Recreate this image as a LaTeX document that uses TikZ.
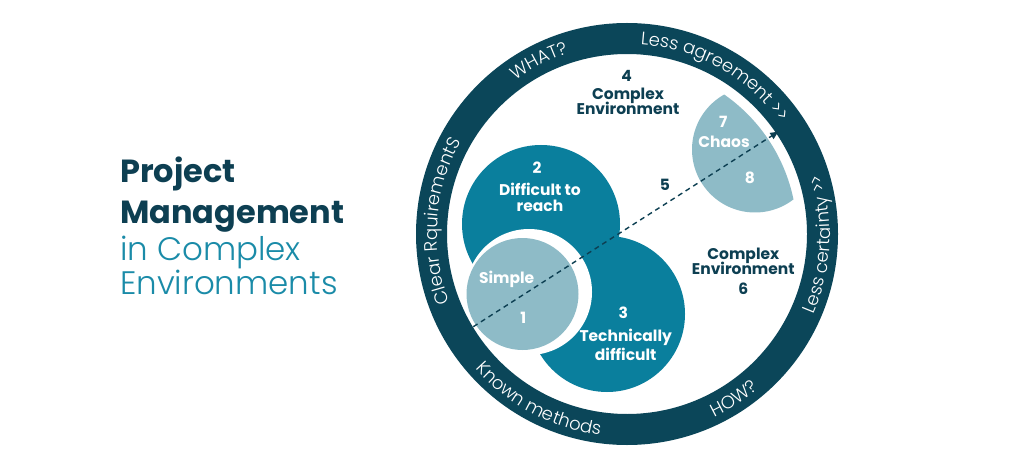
\documentclass[tikz,border=0pt]{standalone}
\usepackage{fontspec}
\setmainfont{Poppins}
\IfFontExistsTF{Poppins Light}{\newfontfamily\lightfnt{Poppins Light}}{\newfontfamily\lightfnt{Poppins}}
\usetikzlibrary{decorations.text,arrows.meta}
\definecolor{ringc}{HTML}{0B4659}
\definecolor{midc}{HTML}{0A7F9D}
\definecolor{lightc}{HTML}{8EBBC7}
\definecolor{darktxt}{HTML}{0D3F52}
\definecolor{tealtxt}{HTML}{1A8BA8}
\begin{document}
\begin{tikzpicture}[x=1pt,y=1pt,
  lbl/.style={font=\fontsize{15.5}{18}\selectfont\bfseries, anchor=base, inner sep=0pt},
  wlbl/.style={lbl, text=white},
  dlbl/.style={lbl, text=darktxt},
  ttl/.style={anchor=base west, inner sep=0pt, font=\fontsize{32}{36}\selectfont\bfseries, text=darktxt},
  ttllight/.style={anchor=base west, inner sep=0pt, font=\fontsize{32.5}{36}\selectfont\lightfnt, text=tealtxt},
  ringtxt/.style={decorate, decoration={text along path, text align=center, text color=white, text={|\fontsize{18}{20}\selectfont\lightfnt|#1}}},
  dasharrow/.style={draw=darktxt, line width=1.4pt, dash pattern=on 5pt off 4pt, -{Triangle[length=8pt,width=7pt,fill=darktxt]}}
]
\useasboundingbox (0,0) rectangle (1024,469);
\fill[white] (0,0) rectangle (1024,469);
% title
\node[ttl] (t1) at (120,286) {Project};
\node[ttl] (t2) at (120,246) {Management};
\node[ttllight] (t3) at (120,209) {in Complex};
\node[ttllight] (t4) at (120,175) {Environments};
% ring
\coordinate (C) at (627,235);
\fill[ringc, even odd rule] (C) circle[radius=211] (C) circle[radius=180];
% circles
\fill[midc] (541,245) circle[radius=79];
\fill[midc] (607,155) circle[radius=78];
\fill[white] (529,177) circle[radius=63];
\fill[lightc] (522.5,175) circle[radius=56];
\begin{scope}
  \clip (C) circle[radius=170];
  \fill[lightc] (755,319.5) circle[radius=63];
\end{scope}
% arrow
\coordinate (as) at (473.3,142.3);
\coordinate (ae) at (778.3,337.3);
\draw[dasharrow] (as) -- (ae);
% ring texts
\path[ringtxt={Clear RquirementS}] (C) ++(216:190) arc[start angle=216, end angle=136, radius=190];
\path[ringtxt={WHAT?}] (C) ++(157:190) arc[start angle=157, end angle=77, radius=190];
\path[ringtxt={Less agreement >>}] (C) ++(101:190) arc[start angle=101, end angle=21, radius=190];
\path[ringtxt={Less certainty >>}] (C) ++(-43:203) arc[start angle=-43, end angle=37, radius=203];
\path[ringtxt={HOW?}] (C) ++(-97:203) arc[start angle=-97, end angle=-17, radius=203];
\path[ringtxt={Known methods}] (C) ++(-158:203) arc[start angle=-158, end angle=-78, radius=203];
% labels
\node[wlbl] (l2) at (537,295.2) {2};
\node[wlbl] (l2a) at (540,273.5) {Difficult to};
\node[wlbl] (l2b) at (540,257.5) {reach};
\node[wlbl] (l1a) at (506.7,186) {Simple};
\node[wlbl] (l1) at (523.3,146) {1};
\node[wlbl] (l3) at (623.3,150.2) {3};
\node[wlbl] (l3a) at (625.7,127.5) {Technically};
\node[wlbl] (l3b) at (625.7,108.5) {difficult};
\node[dlbl] (l5) at (665,278.5) {5};
\node[dlbl] (l4) at (626.7,387.5) {4};
\node[dlbl] (l4a) at (628,369.5) {Complex};
\node[dlbl] (l4b) at (628,354.5) {Environment};
\node[wlbl] (l7) at (723.3,341.2) {7};
\node[wlbl] (l7a) at (724,321.2) {Chaos};
\node[wlbl] (l8) at (750,285.2) {8};
\node[dlbl] (l6a) at (743.3,209.2) {Complex};
\node[dlbl] (l6b) at (743.3,194.2) {Environment};
\node[dlbl] (l6) at (743.3,174.2) {6};
\end{tikzpicture}
\end{document}
